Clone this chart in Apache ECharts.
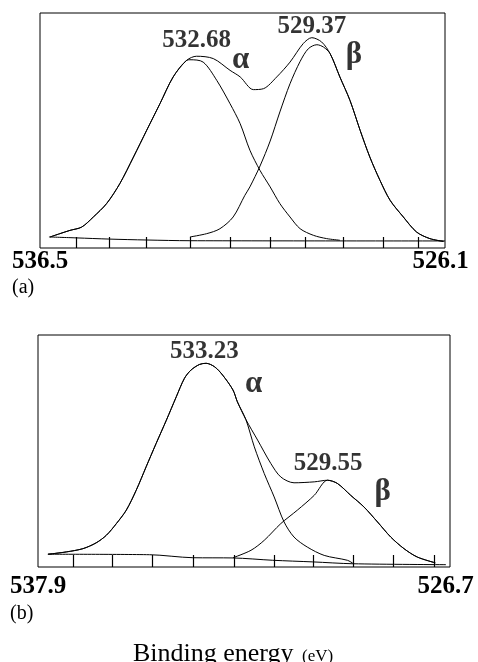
<!DOCTYPE html>
<html>
<head>
<meta charset="utf-8">
<title>XPS O 1s</title>
<script src="https://cdn.jsdelivr.net/npm/echarts@6/dist/echarts.min.js"></script>
<style>
  html, body { margin: 0; padding: 0; background: #fff; }
  #chart { width: 478px; height: 662px; }
</style>
</head>
<body>
<div id="chart"></div>
<script>
// panel (a): binding energy (eV) vs intensity (arbitrary, 0-100 = box height)
var aRange = [536.5, 526.1];
var aTicks = [535.56, 534.73, 533.76, 532.65, 531.62, 530.59, 529.69, 528.71, 527.68, 526.79];
var aRise = [[536.24,4.7],[535.99,6.1],[535.73,7.5],[535.43,8.9],[535.13,13.2],[534.79,18.9],
  [534.45,27.4],[534.10,38.7],[533.76,50.1],[533.42,61.4],[533.08,72.8],[532.73,79.9]];
var aAlpha = aRise.concat([[532.65,80.1],[532.31,79.1],[531.96,71.3],[531.62,61.4],[531.36,52.9],
  [531.11,41.6],[530.85,33.0],[530.59,26.0],[530.34,18.9],[530.08,13.2],[529.82,8.2],[529.48,5.4],
  [529.14,4.0],[528.80,3.3]]);
var aTail = [[529.05,82.7],[528.80,72.8],[528.54,62.8],[528.28,50.1],[528.03,38.7],[527.77,28.8],
  [527.51,20.3],[527.17,13.2],[526.83,6.8],[526.49,4.0],[526.14,2.8]];
var aEnvelope = aRise.concat([[532.48,81.6],[532.05,80.6],[531.62,75.6],[531.36,72.8],[531.02,67.4],
  [530.76,67.8],[530.42,72.8],[530.08,79.1],[529.74,87.0],[529.52,89.5],[529.27,87.7]], aTail);
var aBeta = [[532.65,4.7],[532.22,6.1],[531.88,8.2],[531.54,13.2],[531.24,22.4],[531.11,26.0],
  [530.85,34.9],[530.59,45.5],[530.34,57.9],[530.08,69.9],[529.82,79.4],[529.61,84.8],[529.39,86.5],
  [529.22,85.5]].concat(aTail);
var aBase = [[536.27,4.7],[535.56,4.3],[534.73,3.8],[533.76,3.4],[532.65,3.1],[526.10,3.0]];
var aPeaks = [{name:'532.68', value:[532.48,88.4]}, {name:'529.37', value:[529.52,94.4]}];
var aGreek = [{name:'α', value:[531.35,80.2]}, {name:'β', value:[528.44,82.2]}];

// panel (b)
var bRange = [537.9, 526.7];
var bTicks = [536.95, 535.89, 534.79, 533.69, 532.56, 531.47, 530.43, 529.34, 528.23, 527.13];
var bRise = [[537.63,5.5],[537.13,6.5],[536.68,7.9],[536.32,10.4],[536.04,13.7],[535.77,18.7],
  [535.50,24.5],[535.23,33.1],[534.96,43.2],[534.69,53.2],[534.41,63.3],[534.14,73.4],[533.92,81.3],
  [533.74,84.9],[533.51,87.3],[533.33,87.8],[533.10,86.3],[532.88,82.7],[532.60,76.3],[532.48,71.2],
  [532.25,63.6]];
var bAlpha = bRise.concat([[532.02,51.8],[531.75,40.3],[531.48,30.2],[531.21,19.4],[530.94,12.9],
  [530.58,8.6],[530.12,5.0],[529.49,2.9],[529.34,1.6]]);
var bTail = [[529.76,36.0],[529.40,30.9],[529.04,25.9],[528.67,19.4],[528.31,12.9],[527.95,7.9],
  [527.59,4.3],[527.10,1.8]];
var bEnvelope = bRise.concat([[531.93,54.7],[531.57,44.6],[531.30,38.8],[530.94,36.3],[530.39,36.7],
  [530.03,37.4]], bTail);
var bBeta = [[532.60,4.0],[532.11,7.2],[531.75,11.5],[531.30,18.7],[530.85,24.5],[530.39,30.9],
  [530.03,37.4]].concat(bTail);
var bBase = [[537.63,5.5],[534.87,5.3],[533.69,4.0],[532.60,3.9],[531.52,2.9],[530.43,2.2],
  [529.34,1.4],[526.81,1.0]];
var bPeaks = [{name:'533.23', value:[533.38,92.7]}, {name:'529.55', value:[530.01,44.6]}];
var bGreek = [{name:'α', value:[532.04,78.7]}, {name:'β', value:[528.53,32.5]}];

var serif = '"Liberation Serif", "Times New Roman", serif';

function xAxisFor(i, range, ticks, tickLen, margin) {
  var mid = (range[0] + range[1]) / 2;
  return {
    type: 'value', gridIndex: i, inverse: true,
    min: range[1], max: range[0],
    axisLine: {show: false},
    splitLine: {show: false},
    axisTick: {show: true, inside: true, length: tickLen, customValues: ticks,
      lineStyle: {color: '#000', width: 1.2}},
    axisLabel: {
      customValues: range, margin: margin,
      formatter: function (v) { return (v < mid ? '{r|' : '{l|') + v.toFixed(1) + '}'; },
      rich: {
        l: {fontFamily: serif, fontWeight: 'bold', fontSize: 25, color: '#000'},
        r: {fontFamily: serif, fontWeight: 'bold', fontSize: 25, color: '#000', padding: [0, 9, 0, 0]}
      }
    }
  };
}

function yAxisFor(i) {
  return {type: 'value', gridIndex: i, min: 0, max: 100, show: false};
}

function line(i, data) {
  return {type: 'line', xAxisIndex: i, yAxisIndex: i, data: data, showSymbol: false,
    smooth: 0.3, silent: true, lineStyle: {color: '#000', width: 1}};
}

function notes(i, data, size) {
  return {type: 'scatter', xAxisIndex: i, yAxisIndex: i, data: data, symbolSize: 1,
    silent: true, itemStyle: {color: 'rgba(0,0,0,0)'},
    label: {show: true, position: 'inside', formatter: '{b}', color: '#000',
      fontFamily: serif, fontWeight: 'bold', fontSize: size}};
}

var chart = echarts.init(document.getElementById('chart'));
chart.setOption({
  animation: false,
  backgroundColor: '#fff',
  grid: [
    {left: 40, top: 13, width: 405, height: 235, show: true, borderColor: '#000', borderWidth: 1},
    {left: 38, top: 335, width: 412, height: 232, show: true, borderColor: '#000', borderWidth: 1}
  ],
  xAxis: [xAxisFor(0, aRange, aTicks, 11, 1), xAxisFor(1, bRange, bTicks, 12, 7)],
  yAxis: [yAxisFor(0), yAxisFor(1)],
  series: [
    line(0, aBase), line(0, aAlpha), line(0, aBeta), line(0, aEnvelope),
    notes(0, aPeaks, 25), notes(0, aGreek, 31),
    line(1, bBase), line(1, bAlpha), line(1, bBeta), line(1, bEnvelope),
    notes(1, bPeaks, 25), notes(1, bGreek, 31)
  ],
  graphic: [
    {type: 'text', left: 12, top: 278, style: {text: '(a)', font: '20px ' + serif, fill: '#000'}},
    {type: 'text', left: 10, top: 604, style: {text: '(b)', font: '20px ' + serif, fill: '#000'}},
    {type: 'text', left: 133, top: 641, style: {text: 'Binding energy', font: '26px ' + serif, fill: '#000'}},
    {type: 'text', left: 302, top: 648, style: {text: '(eV)', font: '17px ' + serif, fill: '#000'}}
  ]
});
</script>
</body>
</html>
